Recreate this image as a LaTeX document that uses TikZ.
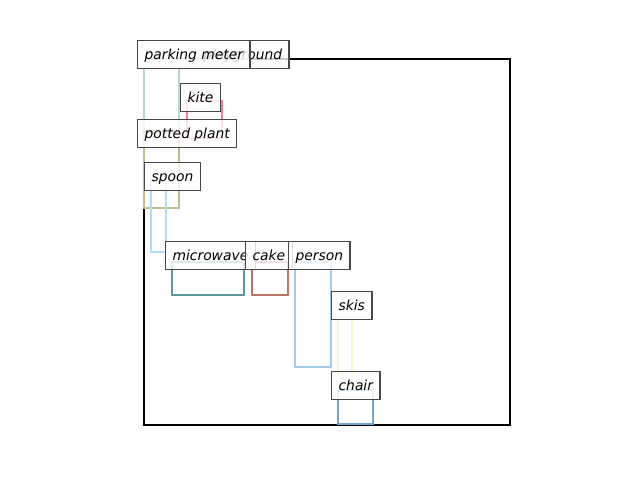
\documentclass[tikz,border=0pt]{standalone}
\usepackage{fontspec}
\setmainfont{DejaVu Sans}
\begin{document}
\begin{tikzpicture}[x=0.025cm, y=-0.025cm,
  every node/.style={font=\fontsize{9.85}{12}\selectfont\itshape},
  tag/.style={draw=black!72, line width=0.9pt, fill=white, fill opacity=0.8,
    text opacity=1, inner xsep=4.96pt, inner ysep=0pt,
    text height=0.88em, text depth=0.12em,
    minimum height=19.85pt, anchor=north west},
  bbox/.style={line width=2.1pt}]
  \useasboundingbox (0,0) rectangle (640,480);

  % colours of the boxes
  \definecolor{cmeter}{RGB}{180,218,208}
  \definecolor{cplant}{RGB}{192,188,142}
  \definecolor{ckite}{RGB}{236,122,160}
  \definecolor{cspoon}{RGB}{172,222,250}
  \definecolor{cwave}{RGB}{92,152,160}
  \definecolor{ccake}{RGB}{186,118,104}
  \definecolor{cperson}{RGB}{162,202,236}
  \definecolor{cskis}{RGB}{246,246,206}
  \definecolor{cchair}{RGB}{112,166,212}

  % image frame
  \draw[line width=1.6pt] (144,59) rectangle (510,425);

  % bounding boxes
  \draw[bbox, cmeter] (144,55) rectangle (179,130);
  \draw[bbox, ckite] (187,101) rectangle (222,138);
  \draw[bbox, cplant] (144,133) rectangle (179,208);
  \draw[bbox, cspoon] (151,182) rectangle (166,252);
  \draw[bbox, cwave] (172,262) rectangle (244,295);
  \draw[bbox, ccake] (252,262) rectangle (288,295);
  \draw[bbox, cperson] (295,262) rectangle (331,367);
  \draw[bbox, cskis] (338,312) rectangle (352,390);
  \draw[bbox, cchair] (338,390) rectangle (373,424);

  % labels
  \node[tag, text width=97.8pt, align=right] (ground) at (137,40) {playground};
  \node[tag] (meter) at (137,40) {parking meter};
  \node[tag] (kite) at (180,83) {kite};
  \node[tag] (plant) at (137,119) {potted plant};
  \node[tag] (spoon) at (144,162) {spoon};
  \node[tag] (wave) at (165,241) {microwave};
  \node[tag] (cake) at (245,241) {cake};
  \node[tag] (person) at (288,241) {person};
  \node[tag] (skis) at (331,291) {skis};
  \node[tag] (chair) at (331,371) {chair};

\end{tikzpicture}
\end{document}
